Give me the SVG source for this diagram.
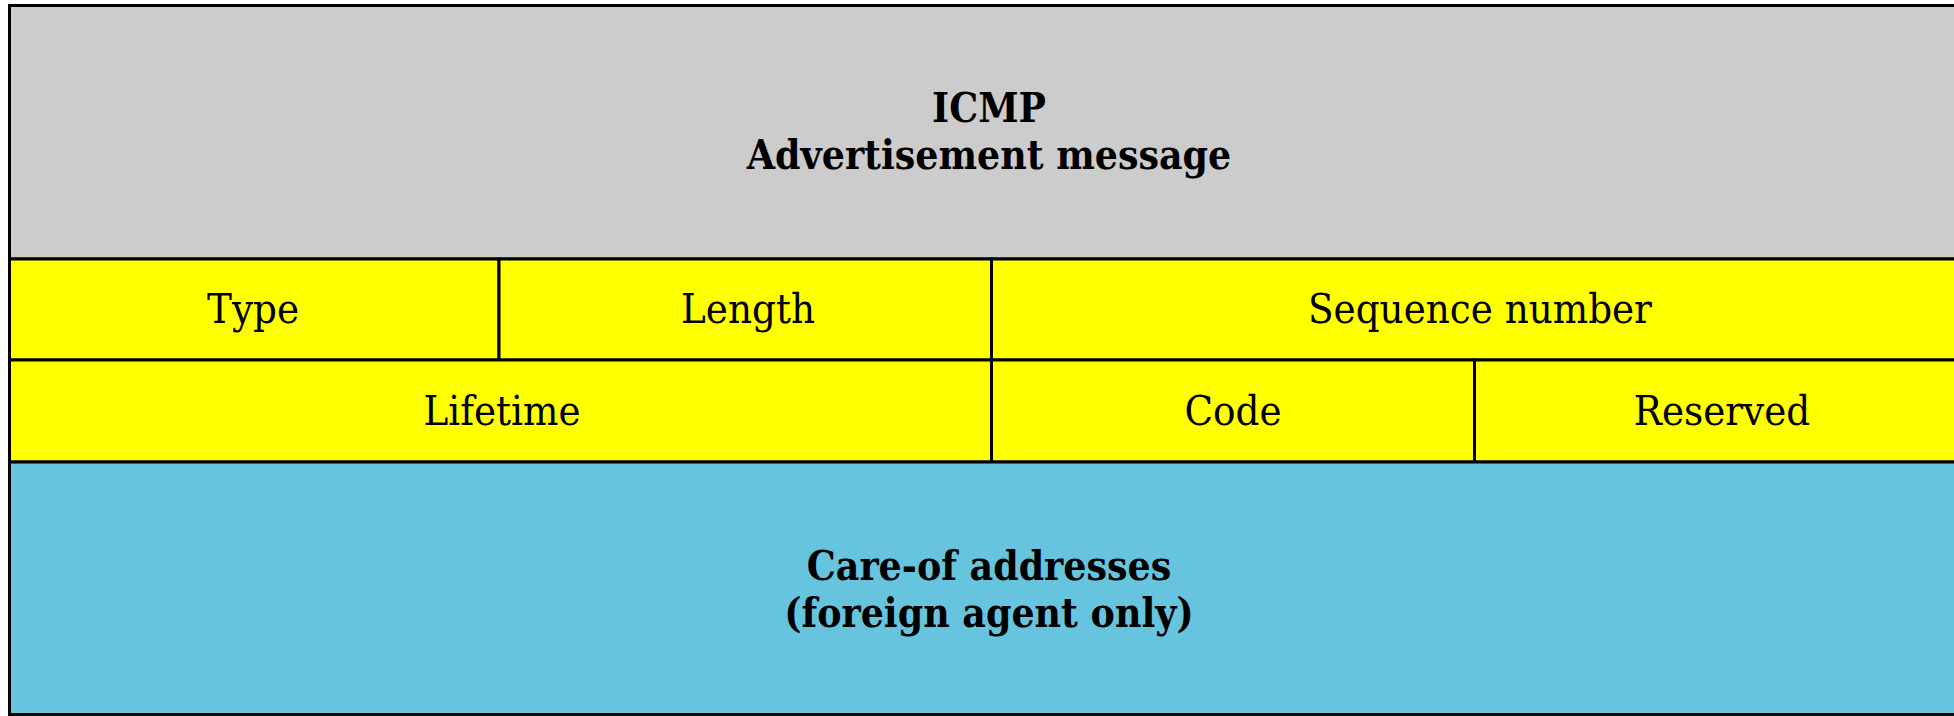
<svg xmlns="http://www.w3.org/2000/svg" width="1954" height="716" viewBox="0 0 1954 716">
<style>
.c{stroke:#000;stroke-width:3}
.t{font-family:"DejaVu Serif Condensed","DejaVu Serif",serif;font-stretch:condensed;font-size:41.5px;text-anchor:middle;fill:#000}
.b{font-weight:bold;font-size:40.5px}
</style>
<rect width="1954" height="716" fill="#fff"/>
<g id="header"><rect class="c" x="9.5" y="5.5" width="1962" height="253.5" fill="#cccccc"/>
<text class="t b" x="989" y="122">ICMP</text><text class="t b" x="989" y="169">Advertisement message</text></g>
<g id="type"><rect class="c" x="9.5" y="259" width="489.5" height="101" fill="#ffff00"/><text class="t" x="253" y="322.5">Type</text></g>
<g id="length"><rect class="c" x="499" y="259" width="492.5" height="101" fill="#ffff00"/><text class="t" x="748" y="322.5">Length</text></g>
<g id="sequence"><rect class="c" x="991.5" y="259" width="980" height="101" fill="#ffff00"/><text class="t" x="1480" y="322.5">Sequence number</text></g>
<g id="lifetime"><rect class="c" x="9.5" y="360" width="982" height="102" fill="#ffff00"/><text class="t" x="502" y="424.5">Lifetime</text></g>
<g id="code"><rect class="c" x="991.5" y="360" width="483" height="102" fill="#ffff00"/><text class="t" x="1233" y="424.5">Code</text></g>
<g id="reserved"><rect class="c" x="1474.5" y="360" width="497" height="102" fill="#ffff00"/><text class="t" x="1722" y="424.5">Reserved</text></g>
<g id="careof"><rect class="c" x="9.5" y="462" width="1962" height="252.5" fill="#66c4de"/>
<text class="t b" x="989" y="580">Care-of addresses</text><text class="t b" x="989" y="627">(foreign agent only)</text></g>
<g id="connectors"/>
</svg>
